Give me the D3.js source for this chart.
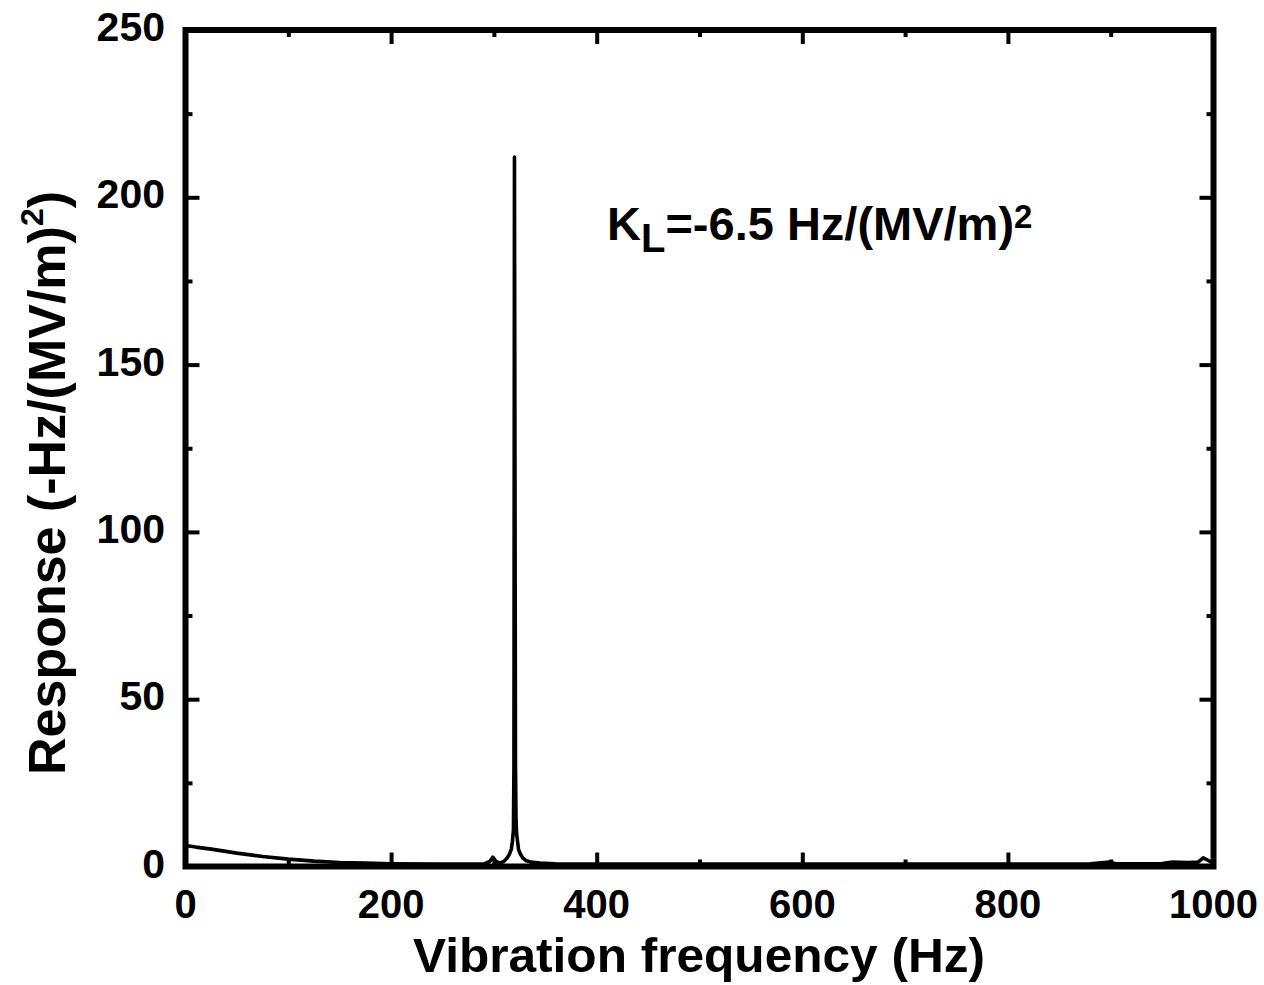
<!DOCTYPE html>
<html>
<head>
<meta charset="utf-8">
<script src="https://cdn.jsdelivr.net/npm/d3@7/dist/d3.min.js"></script>
<style>
  html, body { margin: 0; padding: 0; background: #fff; }
  svg { display: block; }
  text { font-family: "Liberation Sans", Arial, sans-serif; font-weight: bold; fill: #000; }
</style>
</head>
<body>
<svg id="chart" width="1264" height="985"></svg>
<script>
// ---- data ----
const frequency = [0, 10, 25, 50, 75, 100, 125, 150, 175, 200, 250, 290, 296, 299, 302, 306,
  310, 313, 315, 317, 318, 319, 319.5, 320, 320.5, 321, 321.5, 322, 323, 324, 326, 328, 331, 336,
  345, 360, 400, 450, 500, 600, 700, 800, 880, 899, 905, 950, 960, 975, 985, 990, 995, 1000];
const response = [6.3, 5.8, 5.2, 4.0, 3.0, 2.2, 1.6, 1.2, 1.0, 0.8, 0.7, 0.7, 1.5, 2.8, 1.5, 1.0,
  1.6, 2.6, 3.6, 5.2, 7.5, 11, 30, 212, 120, 30, 15, 10, 7.5, 5.0, 3.6, 2.6, 1.8, 1.3,
  1.0, 0.8, 0.7, 0.7, 0.7, 0.7, 0.7, 0.7, 0.8, 1.3, 0.8, 0.9, 1.3, 1.2, 1.3, 2.6, 1.8, 0.9];
const xTicks = [0, 200, 400, 600, 800, 1000];
const xMinorTicks = [100, 300, 500, 700, 900];
const yTicks = [0, 50, 100, 150, 200, 250];
const yMinorTicks = [25, 75, 125, 175, 225];
const xTitle = "Vibration frequency (Hz)";
const yTitleMain = "Response (-Hz/(MV/m)";
const annotationMain = "=-6.5 Hz/(MV/m)";

// ---- layout ----
const svg = d3.select("#chart");
const L = 185.5, R = 1213.5, T = 30, B = 866.5;
const x = d3.scaleLinear().domain([0, 1000]).range([L, R]);
const y = d3.scaleLinear().domain([0, 250]).range([B, T]);

svg.append("defs").append("clipPath").attr("id", "clip")
  .append("rect").attr("x", L).attr("y", T).attr("width", R - L).attr("height", B - T);

const data = frequency.map((f, i) => ({f, v: response[i]}));
svg.append("path")
  .datum(data)
  .attr("clip-path", "url(#clip)")
  .attr("fill", "none")
  .attr("stroke", "#000")
  .attr("stroke-width", 3.6)
  .attr("stroke-linejoin", "round")
  .attr("d", d3.line().x(d => x(d.f)).y(d => y(d.v)));

// axes: inside ticks on all four sides
const major = 14, minor = 7, tw = 4;
function addAxis(axisGen, tr, ticks, size) {
  const g = svg.append("g").attr("transform", tr)
    .call(axisGen.tickValues(ticks).tickSize(size).tickFormat(""));
  g.select(".domain").remove();
  g.selectAll(".tick line").attr("stroke", "#000").attr("stroke-width", tw);
  return g;
}
addAxis(d3.axisTop(x), `translate(0,${B})`, xTicks, major);
addAxis(d3.axisTop(x), `translate(0,${B})`, xMinorTicks, minor);
addAxis(d3.axisBottom(x), `translate(0,${T})`, xTicks, major);
addAxis(d3.axisBottom(x), `translate(0,${T})`, xMinorTicks, minor);
addAxis(d3.axisRight(y), `translate(${L},0)`, yTicks, major);
addAxis(d3.axisRight(y), `translate(${L},0)`, yMinorTicks, minor);
addAxis(d3.axisLeft(y), `translate(${R},0)`, yTicks, major);
addAxis(d3.axisLeft(y), `translate(${R},0)`, yMinorTicks, minor);

// frame
svg.append("rect").attr("x", L).attr("y", T).attr("width", R - L).attr("height", B - T)
  .attr("fill", "none").attr("stroke", "#000").attr("stroke-width", 6);

// tick labels
svg.append("g").selectAll("text").data(xTicks).join("text")
  .attr("x", d => x(d)).attr("y", 918)
  .attr("text-anchor", "middle")
  .attr("font-size", 40)
  .text(d => d);

svg.append("g").selectAll("text").data(yTicks).join("text")
  .attr("x", 165).attr("y", d => y(d) + 11)
  .attr("text-anchor", "end")
  .attr("font-size", 41)
  .text(d => d);

// x title
svg.append("text")
  .attr("x", 699).attr("y", 972)
  .attr("text-anchor", "middle")
  .attr("font-size", 48)
  .attr("textLength", 572)
  .attr("lengthAdjust", "spacingAndGlyphs")
  .text(xTitle);

// y title (rotated) with superscript 2
const yt = svg.append("text")
  .attr("transform", "translate(65,483) rotate(-90)")
  .attr("text-anchor", "middle")
  .attr("font-size", 52);
yt.append("tspan").text(yTitleMain);
yt.append("tspan").attr("font-size", 32).attr("dy", -22).text("2");
yt.append("tspan").attr("dy", 22).text(")");

// annotation
const an = svg.append("text").attr("x", 607).attr("y", 240).attr("font-size", 47);
an.append("tspan").text("K");
an.append("tspan").attr("font-size", 40).attr("dy", 12).text("L");
an.append("tspan").attr("dy", -12).text(annotationMain);
an.append("tspan").attr("font-size", 33).attr("dy", -12).text("2");
</script>
</body>
</html>
